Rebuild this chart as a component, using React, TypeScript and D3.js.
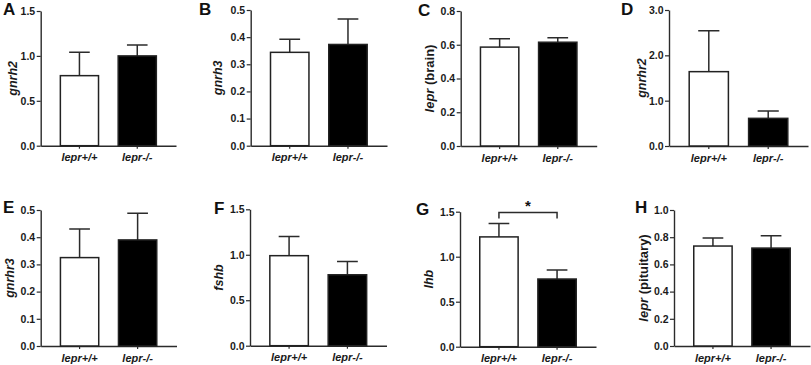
import React, { useRef, useEffect } from 'react';
import * as d3 from 'd3';

const letters = ['A', 'B', 'C', 'D', 'E', 'F', 'G', 'H'];
const genes = ['gnrh2', 'gnrh3', 'lepr', 'gnrhr2', 'gnrhr3', 'fshb', 'lhb', 'lepr'];
const geneSuffix = ['', '', ' (brain)', '', '', '', '', ' (pituitary)'];
const groups = ['lepr+/+', 'lepr-/-'];

// means and upper error (SEM)
const wtMean = [0.78, 0.344, 0.586, 1.64, 0.325, 0.99, 1.22, 0.735];
const wtSem = [0.26, 0.048, 0.049, 0.905, 0.105, 0.21, 0.15, 0.06];
const koMean = [1.0, 0.373, 0.615, 0.61, 0.39, 0.78, 0.752, 0.72];
const koSem = [0.12, 0.094, 0.027, 0.16, 0.098, 0.145, 0.10, 0.09];

const yTicks = [
  [0, 0.5, 1.0, 1.5],
  [0, 0.1, 0.2, 0.3, 0.4, 0.5],
  [0, 0.2, 0.4, 0.6, 0.8],
  [0, 1.0, 2.0, 3.0],
  [0, 0.1, 0.2, 0.3, 0.4, 0.5],
  [0, 0.5, 1.0, 1.5],
  [0, 0.5, 1.0, 1.5],
  [0, 0.2, 0.4, 0.6, 0.8, 1.0]
];

// significance: panel G, lepr+/+ vs lepr-/-
const sigPanel = 6;
const sigMark = '*';
const sigLevel = 1.49;

// panel placement on the page (pixels)
const frames = [
  { ax: 40.7, top: 11, bot: 145.7, right: 176, lx: 3, ly: 15, tx: 16.5 },
  { ax: 250.7, top: 10, bot: 145.7, right: 387, lx: 199, ly: 15, tx: 221.5 },
  { ax: 460.7, top: 11, bot: 146, right: 596.7, lx: 418, ly: 16, tx: 434 },
  { ax: 669, top: 10, bot: 146, right: 808, lx: 621, ly: 15, tx: 645.5 },
  { ax: 40.7, top: 210, bot: 346, right: 176.5, lx: 3, ly: 213, tx: 13.5 },
  { ax: 250, top: 209.3, bot: 345.7, right: 386.5, lx: 214, ly: 214, tx: 222.5 },
  { ax: 460, top: 211.7, bot: 346.7, right: 596, lx: 416, ly: 215, tx: 432.5 },
  { ax: 674, top: 210, bot: 346, right: 810, lx: 635, ly: 213, tx: 648 }
];

const FONT = '"Liberation Sans", Arial, Helvetica, sans-serif';
const INK = '#2b2b2b';

const App = () => {
  const svgRef = useRef<SVGSVGElement>(null);

  useEffect(() => {
    const svg = d3.select(svgRef.current);
    svg.selectAll('*').remove();

    letters.forEach((letter, i) => {
      const f = frames[i];
      const g = svg.append('g');
      const ticks = yTicks[i];

      const y = d3.scaleLinear()
        .domain([0, ticks[ticks.length - 1]])
        .range([f.bot, f.top]);

      const x = d3.scaleBand()
        .domain(groups)
        .range([f.ax, f.right])
        .paddingInner(0.34)
        .paddingOuter(0.34);

      // y axis
      const yAxis = d3.axisLeft(y)
        .tickValues(ticks)
        .tickFormat(d3.format('.1f'))
        .tickSize(4)
        .tickSizeOuter(0)
        .tickPadding(1.5);
      const ya = g.append('g')
        .attr('transform', `translate(${f.ax},0)`)
        .call(yAxis);

      // x axis
      const xAxis = d3.axisBottom(x)
        .tickSize(3)
        .tickSizeOuter(0)
        .tickPadding(5);
      const xa = g.append('g')
        .attr('transform', `translate(0,${f.bot})`)
        .call(xAxis);

      [ya, xa].forEach(a => {
        a.attr('font-family', FONT);
        a.select('.domain').attr('stroke', INK).attr('stroke-width', 1.4);
        a.selectAll('.tick line').attr('stroke', INK).attr('stroke-width', 1.2);
        a.selectAll('.tick text')
          .attr('fill', '#1a1a1a')
          .attr('font-weight', 'bold')
          .attr('font-size', 10.5);
      });
      xa.selectAll('.tick text')
        .attr('font-style', 'italic')
        .attr('font-size', 11);

      const means = [wtMean[i], koMean[i]];
      const sems = [wtSem[i], koSem[i]];

      // error bars (upper only)
      groups.forEach((grp, j) => {
        const cx = (x(grp) as number) + x.bandwidth() / 2;
        const capW = x.bandwidth() * 0.27;
        g.append('path')
          .attr('d', `M${cx},${y(means[j])}V${y(means[j] + sems[j])}M${cx - capW},${y(means[j] + sems[j])}H${cx + capW}`)
          .attr('stroke', INK)
          .attr('stroke-width', 1.5)
          .attr('fill', 'none');
      });

      // bars
      g.selectAll('.bar')
        .data(groups)
        .join('rect')
        .attr('class', 'bar')
        .attr('x', d => x(d) as number)
        .attr('width', x.bandwidth())
        .attr('y', (d, j) => y(means[j]))
        .attr('height', (d, j) => f.bot - y(means[j]))
        .attr('fill', (d, j) => (j === 0 ? '#ffffff' : '#000000'))
        .attr('stroke', '#222')
        .attr('stroke-width', 1.5);

      // panel letter
      g.append('text')
        .attr('x', f.lx)
        .attr('y', f.ly)
        .attr('font-family', FONT)
        .attr('font-weight', 'bold')
        .attr('font-size', 17)
        .attr('fill', '#111')
        .text(letter);

      // y title
      const midY = (f.top + f.bot) / 2;
      const t = g.append('text')
        .attr('transform', `translate(${f.tx},${midY}) rotate(-90)`)
        .attr('text-anchor', 'middle')
        .attr('font-family', FONT)
        .attr('font-weight', 'bold')
        .attr('font-size', geneSuffix[i] ? 13 : 12.5)
        .attr('fill', '#1a1a1a');
      t.append('tspan').attr('font-style', 'italic').text(genes[i]);
      if (geneSuffix[i]) t.append('tspan').text(geneSuffix[i]);

      // significance bracket
      if (i === sigPanel) {
        const x1 = (x(groups[0]) as number) + x.bandwidth() / 2;
        const x2 = (x(groups[1]) as number) + x.bandwidth() / 2;
        const yl = y(sigLevel);
        g.append('path')
          .attr('d', `M${x1},${yl + 6}V${yl}H${x2}V${yl + 6}`)
          .attr('stroke', INK)
          .attr('stroke-width', 1.5)
          .attr('fill', 'none');
        g.append('text')
          .attr('x', (x1 + x2) / 2)
          .attr('y', yl - 2)
          .attr('text-anchor', 'middle')
          .attr('font-family', FONT)
          .attr('font-weight', 'bold')
          .attr('font-size', 15)
          .attr('fill', '#111')
          .text(sigMark);
      }
    });
  }, []);

  return (
    <svg
      ref={svgRef}
      width={811}
      height={365}
      style={{ position: 'absolute', left: 0, top: 0, background: '#fff' }}
    />
  );
};

export default App;
